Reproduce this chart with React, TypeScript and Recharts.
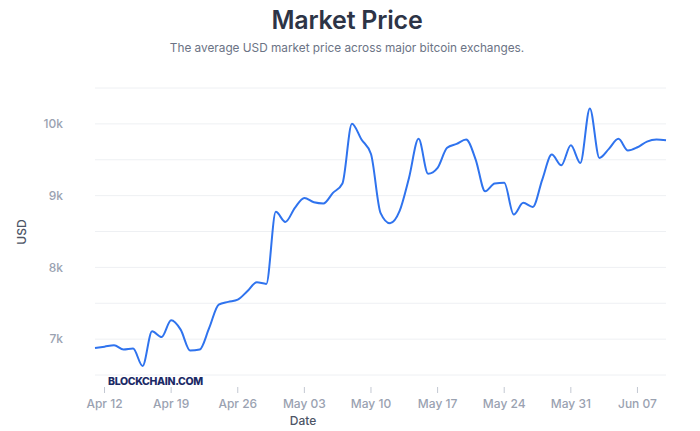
import { LineChart, Line, XAxis, YAxis, CartesianGrid } from "recharts";

// daily market price, Apr 11 -> Jun 10 (index 0 = Apr 11)
const prices = [
  6877, 6895, 6914, 6854, 6868, 6626, 7109, 7030, 7262, 7132,
  6840, 6854, 7156, 7481, 7519, 7550, 7667, 7792, 7770, 8774,
  8634, 8829, 8968, 8907, 8891, 9038, 9170, 10002, 9782, 9580,
  8760, 8615, 8783, 9250, 9791, 9305, 9387, 9666, 9721, 9781,
  9503, 9060, 9168, 9178, 8736, 8899, 8843, 9224, 9572, 9423,
  9702, 9456, 10215, 9526, 9652, 9791, 9628, 9674, 9753, 9781,
  9772,
];

const tickDays = [1, 8, 15, 22, 29, 36, 43, 50, 57];
const tickLabels = [
  "Apr 12", "Apr 19", "Apr 26", "May 03", "May 10",
  "May 17", "May 24", "May 31", "Jun 07",
];
const yTicks = [6500, 7000, 7500, 8000, 8500, 9000, 9500, 10000, 10500];

const data = prices.map((price, day) => ({ day, price }));

const FONT = "Inter, 'Noto Sans', sans-serif";

function DateTick(props: any) {
  const { x, y, payload } = props;
  const i = tickDays.indexOf(payload.value);
  return (
    <g>
      <line x1={x} x2={x} y1={y + 12} y2={y + 18} stroke="#c3c8d2" strokeWidth={1} />
      <text x={x} y={y + 33} textAnchor="middle" fill="#9aa2b1" fontSize={12} fontFamily={FONT} fontWeight={500}>
        {tickLabels[i]}
      </text>
    </g>
  );
}

export default function App() {
  return (
    <div style={{ position: "absolute", left: 0, top: 0, width: 700, height: 431, background: "#fff", fontFamily: FONT }}>
      <div style={{ position: "absolute", left: 0, top: 5, width: 694, textAlign: "center", fontSize: 25, fontWeight: 600, color: "#2d3446", letterSpacing: -0.2 }}>
        Market Price
      </div>
      <div style={{ position: "absolute", left: 0, top: 41, width: 694, textAlign: "center", fontSize: 11.8, color: "#6b7385" }}>
        The average USD market price across major bitcoin exchanges.
      </div>
      <div style={{ position: "absolute", left: 0, top: 0 }}>
        <LineChart width={700} height={431} data={data} margin={{ top: 88, right: 34, bottom: 0, left: 55 }}>
          <CartesianGrid vertical={false} stroke="#eef0f3" />
          <XAxis
            dataKey="day"
            type="number"
            domain={[0, 60]}
            ticks={tickDays}
            tick={<DateTick />}
            tickLine={false}
            axisLine={false}
            tickSize={0}
            tickMargin={0}
            height={56}
            interval={0}
          />
          <YAxis
            domain={[6500, 10500]}
            ticks={yTicks}
            tickFormatter={(v: number) => (v % 1000 === 0 ? `${v / 1000}k` : "")}
            tick={{ fill: "#9aa2b1", fontSize: 12, fontFamily: FONT, fontWeight: 500 }}
            tickLine={false}
            axisLine={false}
            tickSize={0}
            tickMargin={32}
            width={40}
            interval={0}
          />
          <Line
            type="monotone"
            dataKey="price"
            stroke="#2f73ee"
            strokeWidth={2}
            dot={false}
            isAnimationActive={false}
          />
        </LineChart>
      </div>
      <div style={{ position: "absolute", left: 108, top: 375, fontSize: 10.5, fontWeight: 800, color: "#1b2a66", letterSpacing: -0.35 }}>
        BLOCKCHAIN.COM
      </div>
      <div style={{ position: "absolute", left: 6, top: 232, transform: "translate(0, -50%) rotate(-90deg)", fontSize: 12, fontWeight: 500, color: "#4d5566", width: 30, textAlign: "center" }}>
        USD
      </div>
      <div style={{ position: "absolute", left: 283, top: 413, width: 40, textAlign: "center", fontSize: 12, fontWeight: 500, color: "#4d5566" }}>
        Date
      </div>
    </div>
  );
}
